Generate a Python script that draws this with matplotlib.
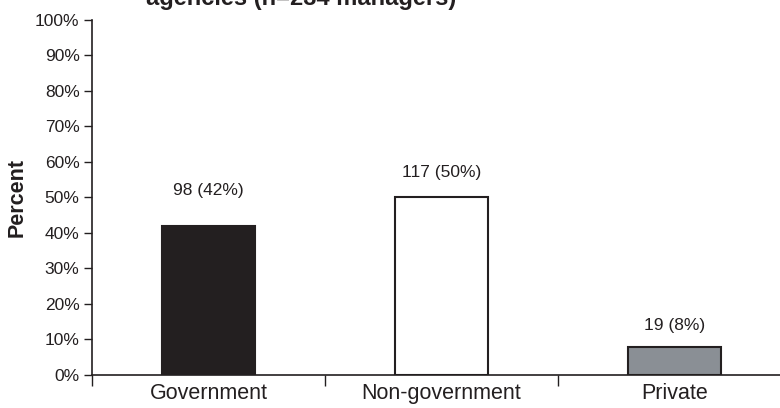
import matplotlib.pyplot as plt

plt.rcParams['font.family'] = ['Liberation Sans', 'DejaVu Sans']

categories = ['Government', 'Non-government', 'Private']
counts = [98, 117, 19]
percents = [42, 50, 8]
bar_colors = ['#231f20', '#ffffff', '#8a8f95']
y_ticks = list(range(0, 101, 10))

ink = '#231f20'

fig = plt.figure(figsize=(7.8, 4.08), dpi=100)
ax = fig.add_axes([0.118, 0.081, 0.896, 0.870])

x = range(len(categories))
ax.bar(x, percents, width=0.4, color=bar_colors, edgecolor=ink, linewidth=1.5, zorder=3)

# value labels above bars
label_pad = [10, 7, 6]
for i, (n, p) in enumerate(zip(counts, percents)):
    ax.text(i, p + label_pad[i], f'{n} ({p}%)', ha='center', va='center', fontsize=12.5, color=ink)

ax.set_xlim(-0.5, 2.5)
ax.set_ylim(0, 100)
ax.set_yticks(y_ticks)
ax.set_yticklabels([f'{t}%' for t in y_ticks], fontsize=12.5, color=ink)

# category labels centered, tick marks between categories
ax.set_xticks([-0.5, 0.5, 1.5, 2.5])
ax.set_xticklabels([])
ax.tick_params(axis='x', length=8, width=1, color=ink, direction='out')
ax.tick_params(axis='y', length=6, width=1, color=ink, pad=3)
for i, c in enumerate(categories):
    ax.text(i, -2.2, c, ha='center', va='top', fontsize=15.5, color=ink)

ax.set_ylabel('Percent', fontsize=15.5, fontweight='bold', color=ink, labelpad=5)

for side in ['top', 'right']:
    ax.spines[side].set_visible(False)
for side in ['left', 'bottom']:
    ax.spines[side].set_color(ink)
    ax.spines[side].set_linewidth(1.2)

# title, clipped at the top edge as in the source image
fig.text(0.386, 1 - 5 / 408, 'agencies (n=234 managers)', ha='center', va='baseline',
         fontsize=17, fontweight='bold', color=ink)

fig.savefig('out.png', dpi=100, facecolor='white')
